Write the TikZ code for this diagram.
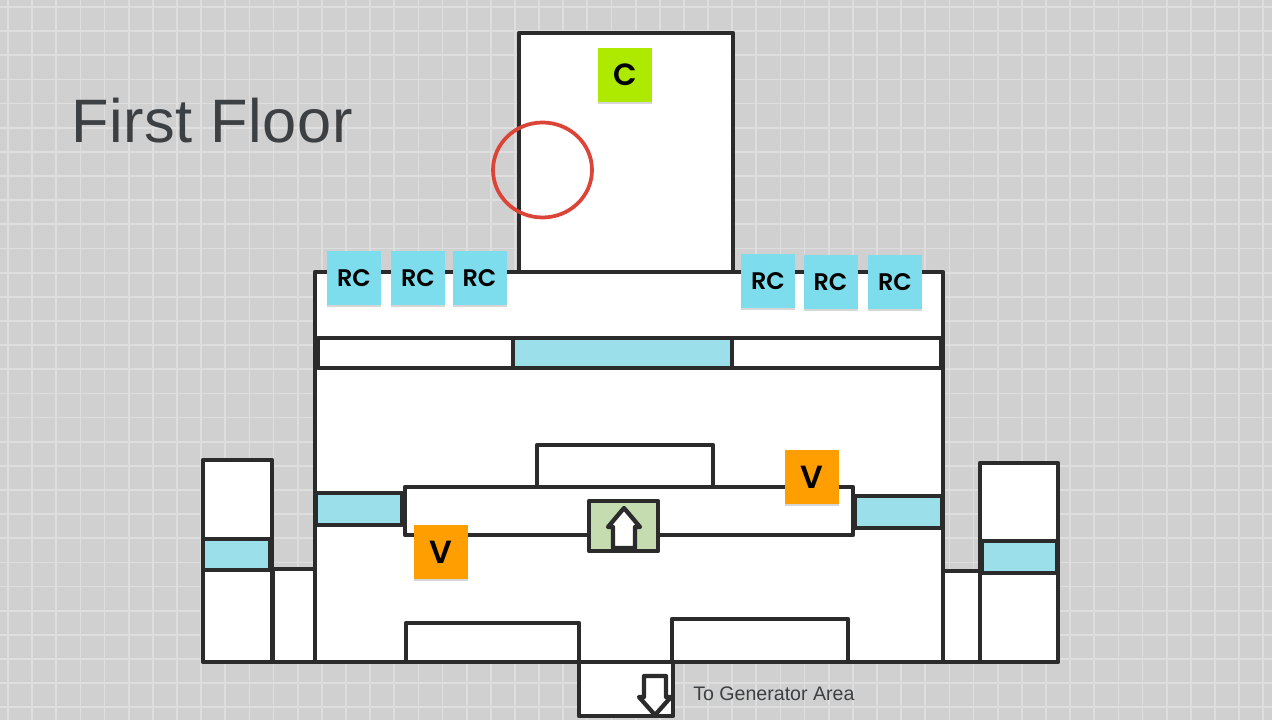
\documentclass[tikz,border=0pt]{standalone}
\usepackage{fontspec}
\setmainfont{Liberation Sans}
\newfontfamily\labelfont{Poppins SemiBold}
\newfontfamily\titlefont[LetterSpace=1.0]{Liberation Sans}
\usetikzlibrary{shadows}
\definecolor{bgc}{HTML}{D0D0D0}
\definecolor{gridc}{HTML}{DEDEDE}
\definecolor{wallc}{HTML}{2B2B2B}
\definecolor{rcc}{HTML}{7EDDEC}
\definecolor{winc}{HTML}{9ADFE9}
\definecolor{vc}{HTML}{FF9E00}
\definecolor{cc}{HTML}{AEEA00}
\definecolor{liftc}{HTML}{C5DBB0}
\definecolor{txtc}{HTML}{3C4043}
\definecolor{ringc}{HTML}{DB4437}
\tikzset{
  x=0.75pt,y=-0.75pt,
  wall/.style={draw=wallc,line width=3.2pt,line join=round,fill=white},
  win/.style={wall,fill=winc},
  sticky/.style={minimum size=40.5pt,inner sep=0pt,text=black,
    drop shadow={shadow xshift=0pt,shadow yshift=-1.2pt,opacity=.16,fill=black}},
  rc/.style={sticky,fill=rcc,font=\labelfont\fontsize{18}{20}\selectfont},
  vn/.style={sticky,fill=vc,font=\labelfont\fontsize{24}{26}\selectfont},
  cn/.style={sticky,fill=cc,font=\labelfont\fontsize{23}{25}\selectfont},
}
\begin{document}
\begin{tikzpicture}
\useasboundingbox (0,0) rectangle (1272,720);
\fill[bgc] (0,0) rectangle (1272,720);
\foreach \i in {0,...,52}{\draw[gridc,line width=1.3pt] ({8+24.14*\i},0) -- ({8+24.14*\i},720);}
\foreach \i in {0,...,29}{\draw[gridc,line width=1.3pt] (0,{7+24.15*\i}) -- (1272,{7+24.15*\i});}
% top room
\draw[wall] (519,33) rectangle (733,272);
% main hall
\draw[wall] (315,272) rectangle (943,662);
% north corridor
\draw[wall] (318,338) rectangle (941,368);
\draw[win] (513,338) rectangle (732,368);
% side towers
\draw[wall] (203,460) rectangle (272,662);
\draw[win] (203,539) rectangle (270,570);
\draw[wall] (273,569) rectangle (315,662);
\draw[wall] (980,463) rectangle (1058,662);
\draw[win] (982,541) rectangle (1057,573);
\draw[wall] (943,571) rectangle (980,662);
% central block
\draw[wall] (405,487) rectangle (853,535);
\draw[wall] (537,445) rectangle (713,487);
\draw[win] (316,493) rectangle (402,525);
\draw[win] (855,496) rectangle (942,528);
% lift
\draw[wall,fill=liftc] (589,501) rectangle (658,551);
\draw[wall,miter limit=10] (613,548) -- (613,527) -- (608,527) -- (624,508) -- (640,527) -- (635,527) -- (635,548) -- cycle;
% south rooms
\draw[wall] (406,662) -- (406,623) -- (579,623) -- (579,662);
\draw[wall] (672,662) -- (672,619) -- (848,619) -- (848,662);
\draw[draw=wallc,line width=3.2pt] (315,662) -- (943,662);
\draw[wall] (579,662) rectangle (673,716);
% down arrow
\draw[wall] (644,676) -- (666,676) -- (666,697) -- (671,697) -- (655,715) -- (639,697) -- (644,697) -- cycle;
% red ring
\draw[draw=ringc,line width=2.8pt] (542.5,170) ellipse [x radius=49.5,y radius=47.5];
% labels
\node[rc] (rc1) at (354,278) {RC};
\node[rc] (rc2) at (418,278) {RC};
\node[rc] (rc3) at (479.5,278) {RC};
\node[rc] (rc4) at (768,281) {RC};
\node[rc] (rc5) at (830.5,282) {RC};
\node[rc] (rc6) at (895,282) {RC};
\node[cn] (c) at (625,75) {C};
\node[vn] (v1) at (812,477) {V};
\node[vn] (v2) at (441,552) {V};
\node[anchor=base west,inner sep=0pt,text=txtc,font=\titlefont\fontsize{46}{50}\selectfont] (title) at (71,143) {First Floor};
\node[anchor=base west,inner sep=0pt,text=txtc,font=\fontsize{14.7}{16}\selectfont] (gen) at (693,700) {To Generator Area};
\end{tikzpicture}
\end{document}
